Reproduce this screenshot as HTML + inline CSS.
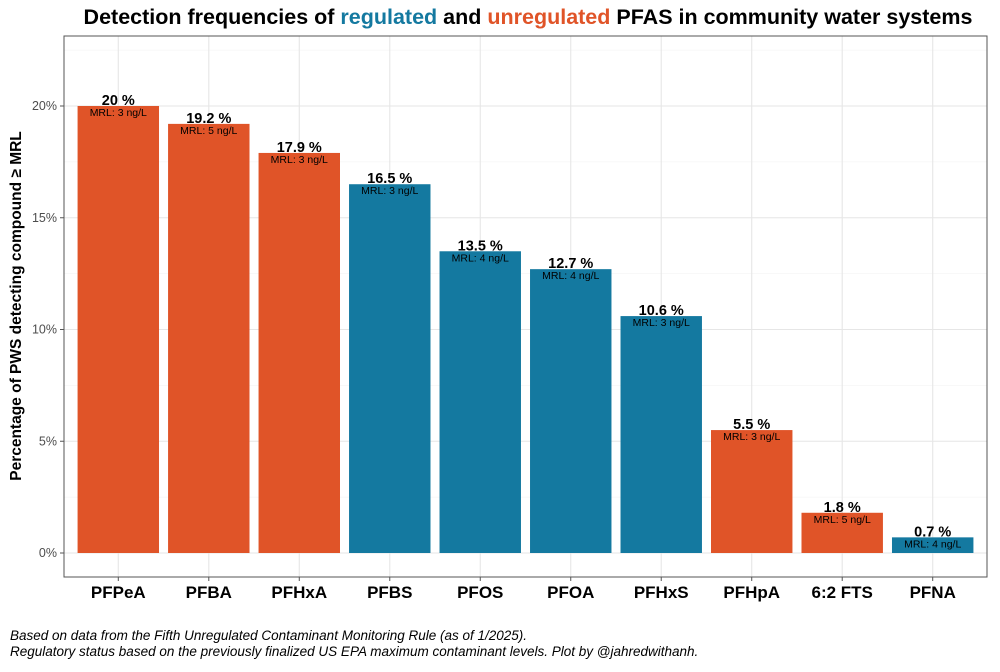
<!DOCTYPE html>
<html><head><meta charset="utf-8"><style>
body{margin:0;background:#fff;font-family:"Liberation Sans",sans-serif}
svg text{font-family:"Liberation Sans",sans-serif}
</style></head><body>
<svg id="chart" width="1000" height="667">
<text x="528" y="24" text-anchor="middle" font-size="21.5" font-weight="bold">Detection frequencies of <tspan fill="#1479A0">regulated</tspan> and <tspan fill="#E05428">unregulated</tspan> PFAS in community water systems</text>
<g id="grid"></g>
<g id="bars"></g>
<rect x="64" y="36" width="923" height="541" fill="none" stroke="#555" stroke-width="1"/>
<text transform="translate(21,306) rotate(-90)" text-anchor="middle" font-size="15.5" font-weight="bold">Percentage of PWS detecting compound ≥ MRL</text>
<text x="10" y="640" font-size="13.5" font-style="italic">Based on data from the Fifth Unregulated Contaminant Monitoring Rule (as of 1/2025).</text>
<text x="10" y="656" font-size="13.5" font-style="italic">Regulatory status based on the previously finalized US EPA maximum contaminant levels. Plot by @jahredwithanh.</text>
</svg>
<script>
const categories=["PFPeA","PFBA","PFHxA","PFBS","PFOS","PFOA","PFHxS","PFHpA","6:2 FTS","PFNA"];
const values=[20,19.2,17.9,16.5,13.5,12.7,10.6,5.5,1.8,0.7];
const labels=["20 %","19.2 %","17.9 %","16.5 %","13.5 %","12.7 %","10.6 %","5.5 %","1.8 %","0.7 %"];
const mrl=[3,5,3,3,4,4,3,3,5,4];
const regulated=[false,false,false,true,true,true,true,false,false,true];
const yTicks=[0,5,10,15,20];
const yTickLabels=["0%","5%","10%","15%","20%"];
const NS="http://www.w3.org/2000/svg";
const px0=64,px1=987,y0=553,ppu=(553-106)/20;
const step=(px1-px0)/(categories.length-1+1.2);
const xc=i=>px0+step*0.6+i*step;
const y=v=>y0-v*ppu;
function mk(tag,attrs,parent){const e=document.createElementNS(NS,tag);for(const k in attrs)e.setAttribute(k,attrs[k]);parent.appendChild(e);return e;}
const grid=document.getElementById('grid'),bars=document.getElementById('bars'),svg=document.getElementById('chart');
for(let v=2.5;v<23;v+=5){const l=mk('line',{x1:px0,x2:px1,y1:y(v),y2:y(v),stroke:'#f0f0f0','stroke-width':0.6},grid);

}
yTicks.forEach((v,i)=>{const l=mk('line',{x1:px0,x2:px1,y1:y(v),y2:y(v),stroke:'#e6e6e6','stroke-width':1.1},grid);


const tk=mk('line',{x1:px0-4,x2:px0,y1:y(v),y2:y(v),stroke:'#555'},grid);


const t=mk('text',{x:px0-7,y:y(v)+4,'text-anchor':'end','font-size':12.5,fill:'#4d4d4d'},grid);t.textContent=yTickLabels[i];

});
categories.forEach((c,i)=>{const g=mk('line',{x1:xc(i),x2:xc(i),y1:36,y2:577,stroke:'#e6e6e6','stroke-width':1.1},grid);


const w=step*0.9;
const r=mk('rect',{x:xc(i)-w/2,y:y(values[i]),width:w,height:y0-y(values[i]),fill:regulated[i]?'#1479A0':'#E05428'},bars);


const t=mk('text',{x:xc(i),y:y(values[i])-1,'text-anchor':'middle','font-size':14.5,'font-weight':'bold'},bars);t.textContent=labels[i];


const m=mk('text',{x:xc(i),y:y(values[i])+10,'text-anchor':'middle','font-size':10.5},bars);m.textContent='MRL: '+mrl[i]+' ng/L';


const tk=mk('line',{x1:xc(i),x2:xc(i),y1:577,y2:581,stroke:'#555'},grid);


const xl=mk('text',{x:xc(i),y:598,'text-anchor':'middle','font-size':17,'font-weight':'bold'},svg);xl.textContent=c;

});
</script>
</body></html>
